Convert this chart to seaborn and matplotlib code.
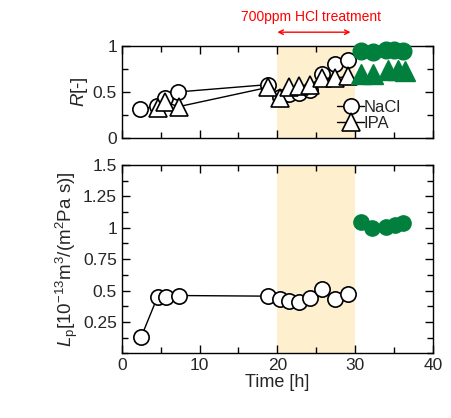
import numpy as np
import pandas as pd
import matplotlib
matplotlib.use("Agg")
import matplotlib.pyplot as plt
import seaborn as sns
from matplotlib.ticker import MultipleLocator, FuncFormatter
from matplotlib.lines import Line2D

# ---------------- data ----------------
t_before = [2.4, 4.5, 5.5, 7.2, 18.8, 20.3, 21.5, 22.8, 24.2, 25.7, 27.4, 29.1]
r_nacl = [0.31, 0.35, 0.43, 0.50, 0.58, 0.45, 0.48, 0.49, 0.52, 0.70, 0.80, 0.85]
t_ipa = [4.6, 5.6, 7.3, 18.8, 20.3, 21.5, 22.8, 24.2, 25.7, 27.4, 29.1]
r_ipa = [0.33, 0.39, 0.34, 0.55, 0.43, 0.55, 0.56, 0.58, 0.65, 0.65, 0.67]

t_lp = [2.5, 4.6, 5.7, 7.3, 18.8, 20.3, 21.5, 22.8, 24.2, 25.7, 27.4, 29.1]
lp = [0.13, 0.45, 0.45, 0.46, 0.455, 0.43, 0.415, 0.41, 0.437, 0.51, 0.43, 0.476]

t_after = [30.8, 32.3, 34.0, 35.0, 36.1]
r_nacl_after = [0.94, 0.93, 0.96, 0.96, 0.95]
t_ipa_after = [30.8, 32.3, 34.2, 35.5, 36.4]
r_ipa_after = [0.70, 0.70, 0.74, 0.74, 0.73]
t_lp_after = [30.7, 32.2, 34.0, 35.1, 36.2]
lp_after = [1.048, 0.995, 1.008, 1.02, 1.035]

treat_start, treat_end = 20, 30

# ---------------- style ----------------
sns.set_theme(style="ticks")
plt.rcParams["font.family"] = ["Liberation Sans", "DejaVu Sans"]
plt.rcParams["mathtext.fontset"] = "custom"
plt.rcParams["mathtext.rm"] = "Liberation Sans"
plt.rcParams["mathtext.it"] = "Liberation Sans:italic"

GREEN = "#00803C"
SHADE = "#FEF0CF"
FS = 12.5
MS = 11

fig = plt.figure(figsize=(4.51, 4.18), dpi=100)
ax1 = fig.add_axes([0.270, 0.670, 0.690, 0.220])
ax2 = fig.add_axes([0.270, 0.155, 0.690, 0.450])

df_n = pd.DataFrame({"t": t_before, "r": r_nacl})
df_i = pd.DataFrame({"t": t_ipa, "r": r_ipa})
df_l = pd.DataFrame({"t": t_lp, "lp": lp})

for ax in (ax1, ax2):
    ax.axvspan(treat_start, treat_end, color=SHADE, lw=0, zorder=0)

# top panel
sns.lineplot(data=df_n, x="t", y="r", ax=ax1, color="black", lw=1, marker="o",
             markersize=MS, markerfacecolor="white", markeredgecolor="black",
             markeredgewidth=1.2, sort=False, zorder=3)
sns.lineplot(data=df_i, x="t", y="r", ax=ax1, color="black", lw=1, marker="^",
             markersize=MS + 2, markerfacecolor="white", markeredgecolor="black",
             markeredgewidth=1.2, sort=False, zorder=4)
ax1.plot(t_after, r_nacl_after, "o", color=GREEN, ms=MS + 1, mec=GREEN,
         clip_on=False, zorder=5)
ax1.plot(t_ipa_after, r_ipa_after, "^", color=GREEN, ms=MS + 3, mec=GREEN,
         clip_on=False, zorder=5)

# bottom panel
sns.lineplot(data=df_l, x="t", y="lp", ax=ax2, color="black", lw=1, marker="o",
             markersize=MS, markerfacecolor="white", markeredgecolor="black",
             markeredgewidth=1.2, sort=False, zorder=3)
ax2.plot(t_lp_after, lp_after, "o", color=GREEN, ms=MS, mec=GREEN, zorder=5)

fmt = FuncFormatter(lambda v, p: f"{v:g}")
for ax in (ax1, ax2):
    ax.set_xlim(0, 40)
    ax.xaxis.set_major_locator(MultipleLocator(10))
    ax.xaxis.set_minor_locator(MultipleLocator(5))
    ax.tick_params(which="both", direction="in", top=True, right=True,
                   labelsize=FS, width=1, color="black")
    ax.tick_params(which="major", length=6)
    ax.tick_params(which="minor", length=4)
    for s in ax.spines.values():
        s.set_linewidth(1)
        s.set_color("black")
    ax.yaxis.set_major_formatter(fmt)
    ax.set_xlabel("")
    ax.set_ylabel("")

ax1.set_ylim(0, 1)
ax1.yaxis.set_major_locator(MultipleLocator(0.5))
ax1.yaxis.set_minor_locator(MultipleLocator(0.25))
ax1.tick_params(labelbottom=False)
ax1.set_ylabel("$\\mathit{R}$[-]", fontsize=FS + 1, labelpad=2)

ax2.set_ylim(0, 1.5)
ax2.set_yticks([0.25, 0.5, 0.75, 1, 1.25, 1.5])
ax2.yaxis.set_minor_locator(MultipleLocator(0.125))
ax2.xaxis.set_major_formatter(fmt)
ax2.set_xlabel("Time [h]", fontsize=FS + 0.5, labelpad=1)
ax2.set_ylabel("$\\mathit{L}_\\mathrm{p}$[10$^{-13}$m$^{3}$/(m$^{2}$Pa s)]",
               fontsize=FS + 1, labelpad=2)

# legend
handles = [
    Line2D([], [], color="black", lw=1, marker="o", ms=MS, mfc="white", mec="black", mew=1.2),
    Line2D([], [], color="black", lw=1, marker="^", ms=MS + 2, mfc="white", mec="black", mew=1.2),
]
ax1.legend(handles, ["NaCl", "IPA"], loc="lower left", bbox_to_anchor=(0.655, -0.05),
           frameon=False, fontsize=FS - 0.5, handlelength=1.6, handletextpad=0.0,
           labelspacing=0.05, borderpad=0.2)

# annotation above top panel
ax1.annotate("", xy=(treat_start, 1.15), xytext=(29.4, 1.15),
             xycoords="data", textcoords="data", annotation_clip=False,
             arrowprops=dict(arrowstyle="<->", color="red", lw=1, shrinkA=0, shrinkB=0,
                             mutation_scale=8))
ax1.text(24.3, 1.31, "700ppm HCl treatment", color="red", fontsize=10,
         ha="center", va="center", transform=ax1.transData, clip_on=False)

fig.savefig("out.png", dpi=100)
